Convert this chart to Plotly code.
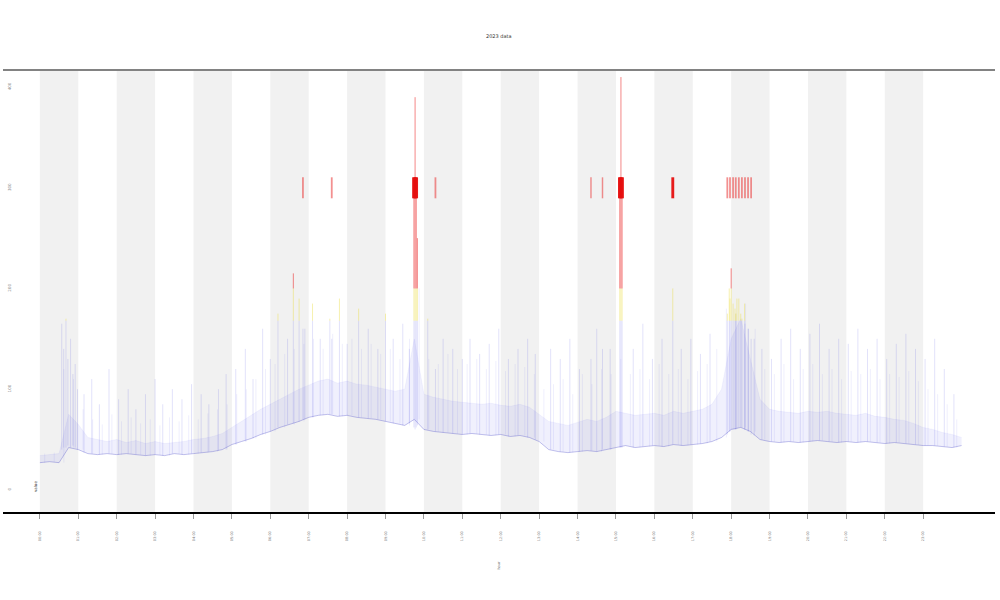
import plotly.graph_objects as go

# ---------------- data ----------------
# band envelope sampled every 0.25 units (x = 0 .. 24)
band_low = [27, 28, 27, 42, 40, 36, 35, 36, 35, 36, 35, 34, 35, 34, 36, 35, 36, 37, 38, 40,
            45, 48, 51, 55, 58, 62, 65, 68, 72, 74, 75, 73, 74, 72, 71, 70, 68, 66, 64, 70,
            60, 58, 57, 56, 55, 56, 55, 54, 55, 53, 54, 52, 48, 40, 38, 37, 38, 39, 38, 40,
            42, 44, 42, 43, 44, 43, 45, 44, 45, 46, 48, 52, 60, 62, 58, 50, 48, 47, 48, 47,
            48, 49, 48, 47, 48, 47, 48, 47, 46, 47, 46, 45, 44, 44, 43, 42, 44]
band_high = [34, 35, 36, 75, 65, 52, 50, 48, 50, 47, 49, 46, 48, 46, 47, 48, 50, 51, 53, 56,
             62, 68, 74, 80, 85, 90, 95, 100, 104, 108, 110, 106, 108, 105, 104, 102, 100, 98, 100, 150,
             95, 92, 90, 88, 87, 86, 85, 86, 84, 83, 85, 82, 75, 68, 66, 64, 67, 70, 68, 72,
             78, 76, 74, 75, 76, 74, 78, 76, 78, 80, 85, 100, 150, 170, 130, 90, 80, 78, 77, 76,
             78, 77, 78, 76, 75, 74, 76, 73, 72, 70, 69, 66, 62, 60, 57, 55, 52]
# minor spikes between band samples (x = 0.125 .. 23.875)
minor_top = [36, 37, 120, 110,
             80, 70, 65, 75, 68, 72, 66, 70, 64, 72, 68, 74, 70, 76, 80, 85,
             95, 100, 110, 120, 125, 135, 140, 145, 150, 140, 155, 145, 150, 140, 145, 135, 140, 130, 150,
             200,
             130, 125, 135, 120, 125, 130, 120, 128, 118, 125, 122, 115,
             100, 105, 110, 95, 115, 105, 120, 115,
             130, 115, 120, 110, 125, 115, 120, 110, 118, 125, 140,
             180, 175, 185, 160,
             120, 115, 125, 110, 120, 125, 115, 120, 110, 118, 115, 120, 110, 115, 112, 118, 108, 100, 95, 85, 70]

# individual spikes: position, peak value, base value
spike_x = [0.57, 0.62, 0.68, 0.73, 0.80, 0.86, 0.92, 0.98,
           1.15, 1.35, 1.55, 1.80, 2.05, 2.30, 2.50, 2.75, 3.00, 3.20, 3.45, 3.70, 3.95, 4.20, 4.40, 4.65, 4.85,
           5.10, 5.35, 5.55, 5.80, 6.00, 6.20, 6.45, 6.60, 6.75, 6.85, 6.90, 7.10, 7.30, 7.55, 7.60, 7.80, 8.00, 8.30,
           8.55, 8.80, 9.00, 9.20, 9.45, 9.62, 9.74, 9.77, 9.80, 9.83,
           10.10, 10.30, 10.50, 10.75, 11.00, 11.20, 11.45, 11.70, 11.95, 12.20, 12.45, 12.70, 12.90,
           13.30, 13.55, 13.80, 14.05, 14.35, 14.50, 14.65, 14.85, 15.10, 15.13, 15.16,
           15.45, 15.70, 15.95, 16.20, 16.48, 16.70, 16.95, 17.20, 17.45,
           17.90, 17.95, 17.97, 18.00, 18.05, 18.10, 18.12, 18.15, 18.20, 18.25, 18.28, 18.35, 18.36, 18.44, 18.45, 18.52, 18.60,
           18.80, 19.05, 19.30, 19.55, 19.80, 20.05, 20.30, 20.55, 20.80, 21.05, 21.30, 21.55, 21.80, 22.05, 22.30,
           22.55, 22.80, 23.05, 23.30, 23.55, 23.80]
spike_top = [165, 140, 170, 130, 150, 115, 125, 100,
             95, 110, 85, 120, 90, 100, 80, 95, 110, 85, 100, 90, 105, 95, 85, 100, 115,
             120, 140, 110, 160, 130, 175, 150, 215, 190, 160, 160, 185, 150, 170, 150, 190, 145, 180,
             160, 140, 175, 150, 165, 140, 300, 390, 300, 250,
             170, 120, 150, 140, 130, 150, 135, 145, 160, 130, 140, 150, 135,
             140, 130, 150, 120, 130, 160, 140, 140, 310, 410, 310,
             140, 165, 130, 150, 200, 140, 150, 135, 155,
             175, 200, 190, 220, 185, 180, 175, 190, 190, 175, 170, 185, 165, 160, 160, 150, 150,
             140, 130, 150, 160, 140, 155, 165, 140, 150, 145, 160, 140, 150, 130, 145,
             155, 140, 130, 150, 120, 95]
spike_base = [40, 42, 42, 44, 42, 44, 42, 40,
              37, 36, 35, 36, 35, 36, 35, 34, 35, 34, 36, 35, 36, 37, 38, 39, 40,
              45, 48, 51, 55, 58, 62, 65, 66, 68, 70, 70, 72, 74, 75, 75, 73, 74, 72,
              71, 70, 68, 66, 64, 66, 62, 60, 62, 64,
              60, 58, 57, 56, 55, 56, 55, 54, 55, 53, 54, 52, 50,
              40, 38, 37, 38, 39, 38, 40, 40, 42, 42, 42,
              42, 43, 44, 43, 45, 44, 45, 46, 48,
              55, 58, 58, 60, 60, 60, 60, 61, 62, 62, 62, 60, 60, 58, 58, 55, 54,
              50, 48, 47, 48, 47, 48, 49, 48, 47, 48, 47, 48, 47, 46, 47,
              46, 45, 44, 44, 43, 42]

# readings that hit the cap value
cap_x = [6.85, 7.60, 9.74, 9.77, 9.80, 10.30, 14.35, 14.65, 15.10, 15.13, 15.16, 16.48,
         17.90, 17.97, 18.05, 18.12, 18.20, 18.28, 18.36, 18.44, 18.52]
cap_strength = [1.0, 1.0, 2.0, 2.0, 2.0, 1.0, 0.8, 0.8, 2.0, 2.0, 2.0, 1.6,
                1.0, 1.0, 1.0, 1.0, 1.0, 1.0, 1.0, 1.0, 1.0]
cap_value = 300

hour_ticks = list(range(24))
hour_labels = [f"{h:02d}:00" for h in hour_ticks]
y_ticks = [0, 100, 200, 300, 400]
title_text = "2023 data"

# ---------------- figure ----------------
band_x = [i * 0.25 for i in range(len(band_low))]
minor_x = [i * 0.25 + 0.125 for i in range(len(minor_top))]

BLUE = "rgba(95,95,230,0.30)"
YELLOW = "rgba(235,220,70,0.55)"
RED = "rgba(235,30,30,0.6)"
t_yel, t_red = 168, 200

blue_x, blue_y, yel_x, yel_y, red_x, red_y = [], [], [], [], [], []
for x, top, base in zip(spike_x, spike_top, spike_base):
    blue_x += [x, x, None]
    blue_y += [base, min(top, t_yel), None]
    if top > t_yel:
        yel_x += [x, x, None]
        yel_y += [t_yel, min(top, t_red), None]
    if top > t_red:
        red_x += [x, x, None]
        red_y += [t_red, top, None]

mx, my = [], []
for i, (x, top) in enumerate(zip(minor_x, minor_top)):
    mx += [x, x, None]
    my += [band_low[i], top, None]

fig = go.Figure()
fig.add_trace(go.Scatter(x=band_x, y=band_low, mode="lines", line=dict(width=0),
                         hoverinfo="skip", showlegend=False))
fig.add_trace(go.Scatter(x=band_x, y=band_high, mode="lines", fill="tonexty",
                         fillcolor="rgba(110,110,235,0.10)",
                         line=dict(width=0.4, color="rgba(110,110,235,0.18)"),
                         showlegend=False))
fig.add_trace(go.Scatter(x=mx, y=my, mode="lines",
                         line=dict(width=0.5, color="rgba(110,110,235,0.22)"), showlegend=False))
fig.add_trace(go.Scatter(x=blue_x, y=blue_y, mode="lines",
                         line=dict(width=0.6, color=BLUE), showlegend=False))
fig.add_trace(go.Scatter(x=yel_x, y=yel_y, mode="lines",
                         line=dict(width=0.8, color=YELLOW), showlegend=False))
fig.add_trace(go.Scatter(x=red_x, y=red_y, mode="lines",
                         line=dict(width=0.9, color=RED), showlegend=False))
fig.add_trace(go.Scatter(x=band_x, y=band_low, mode="lines",
                         line=dict(width=0.7, color="rgba(80,80,200,0.5)"), showlegend=False))
fig.add_trace(go.Scatter(
    x=cap_x, y=[cap_value] * len(cap_x), mode="markers",
    marker=dict(symbol="line-ns", size=15,
                line=dict(width=[1.8 * s for s in cap_strength],
                          color=["rgba(230,15,15,0.95)" if s >= 1.5 else "rgba(235,70,70,0.6)"
                                 for s in cap_strength])),
    showlegend=False))

shapes = []
for k in range(0, 24, 2):
    shapes.append(dict(type="rect", xref="x", yref="paper", x0=k, x1=k + 1, y0=0, y1=1,
                       fillcolor="rgb(241,241,241)", line=dict(width=0), layer="below"))
shapes.append(dict(type="line", xref="paper", yref="paper", x0=0, x1=1, y0=1, y1=1,
                   line=dict(color="rgb(130,130,130)", width=2)))

fig.update_layout(
    width=1000, height=600,
    margin=dict(l=3, r=5, t=70, b=88),
    plot_bgcolor="white", paper_bgcolor="white",
    shapes=shapes,
    showlegend=False,
    font=dict(family="DejaVu Sans", color="#444"),
    xaxis=dict(range=[-0.96, 24.87], tickvals=hour_ticks, ticktext=hour_labels,
               tickangle=-90, tickfont=dict(size=3.5, color="#777"),
               ticks="outside", ticklen=5, tickwidth=0.5, tickcolor="#999",
               ticklabelstandoff=11,
               showgrid=False, zeroline=False, showline=True,
               linecolor="black", linewidth=1.5),
    yaxis=dict(range=[-22, 417], tickvals=y_ticks, ticktext=[str(v) for v in y_ticks],
               tickangle=-90, tickfont=dict(size=4, color="#888"),
               ticklabelposition="inside", ticks="",
               showgrid=False, zeroline=False, showline=False),
    annotations=[
        dict(text=title_text, xref="paper", yref="paper", x=0.5, y=1.088,
             showarrow=False, font=dict(size=5, color="#333")),
        dict(text="hour", xref="paper", yref="paper", x=0.5, y=-0.136,
             textangle=-90, showarrow=False, font=dict(size=3.5, color="#777")),
        dict(text="value", xref="paper", yref="paper", x=0.029, y=0.04,
             textangle=-90, showarrow=False, font=dict(size=4, color="#333")),
    ],
)

fig.write_html("out.html", config={"displayModeBar": False},
               post_script="document.body.style.margin='0';")
